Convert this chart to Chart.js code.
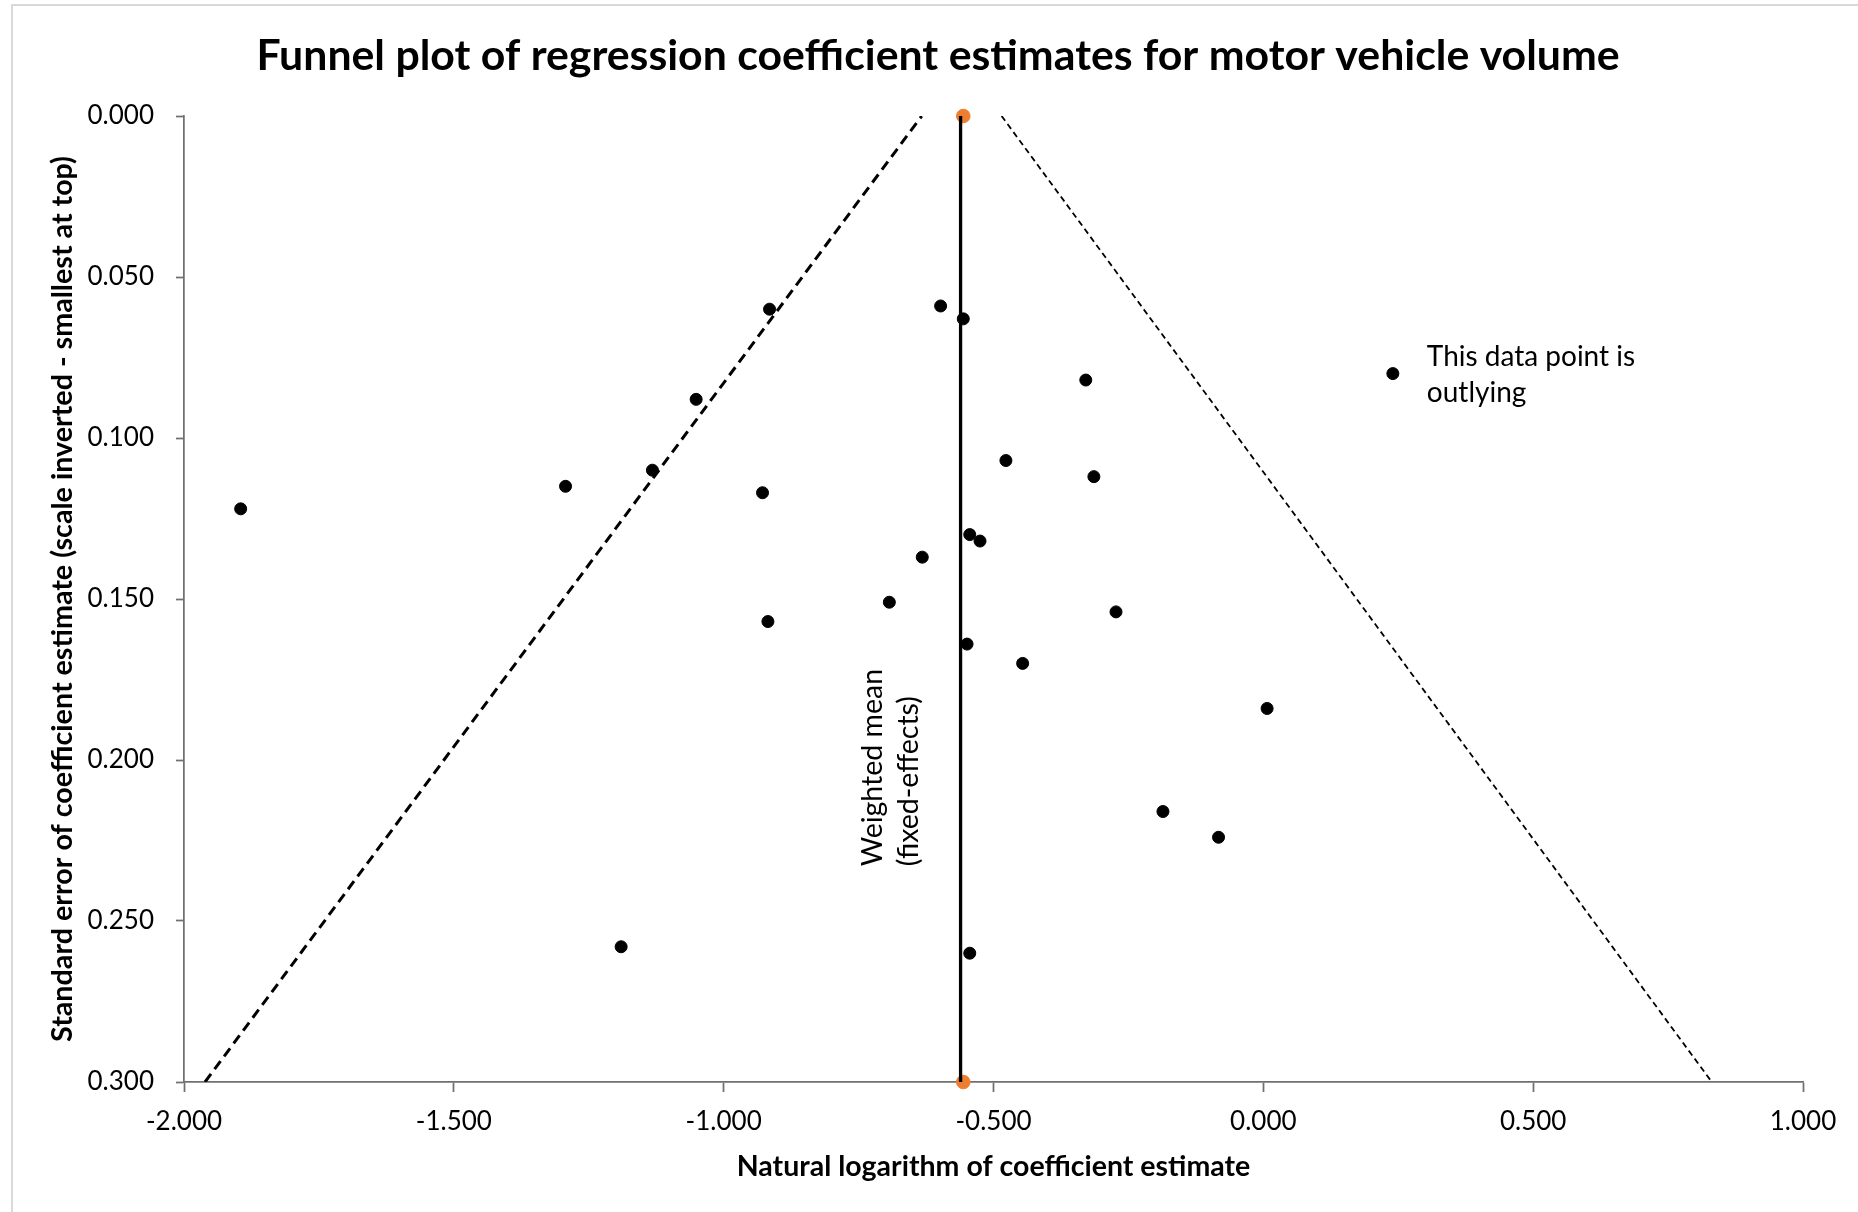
<!DOCTYPE html>
<html>
<head>
<meta charset="utf-8">
<title>Funnel plot</title>
<script src="https://cdn.jsdelivr.net/npm/chart.js@4.4.1/dist/chart.umd.min.js"></script>
<style>
  html, body { margin: 0; padding: 0; background: #fff; overflow: hidden; }
  #frame { position: absolute; left: 11px; top: 4px; width: 1900px; height: 1300px;
           border-left: 2px solid #d9d9d9; border-top: 2px solid #d9d9d9; }
  #wrap { position: absolute; left: 0; top: 0; width: 1858px; height: 1212px; }
</style>
</head>
<body>
<div id="frame"></div>
<div id="wrap"><canvas id="chart" width="1858" height="1212"></canvas></div>
<script>
/* Study estimates: ln(coefficient) and its standard error */
var estimates = [-1.895, -1.293, -1.132, -1.051, -0.915, -0.928, -0.918, -1.190, -0.598, -0.556,
                 -0.329, -0.477, -0.314, -0.544, -0.525, -0.632, -0.693, -0.273, -0.549, -0.446,
                 -0.544, 0.007, -0.186, -0.083, 0.240];
var stdErrors = [0.122, 0.115, 0.110, 0.088, 0.060, 0.117, 0.157, 0.258, 0.059, 0.063,
                 0.082, 0.107, 0.112, 0.130, 0.132, 0.137, 0.151, 0.154, 0.164, 0.170,
                 0.260, 0.184, 0.216, 0.224, 0.080];
var outlierIndex = 24;

/* Weighted mean (fixed-effects) line and its end markers */
var meanEstimate = -0.561;
var meanLineSE = [0, 0.3];
var meanMarkerX = [-0.556, -0.556];
var meanMarkerSE = [0, 0.3];

/* Funnel limits */
var lowerLimitX = [-1.961, -0.633];
var lowerLimitSE = [0.3, 0];
var upperLimitX = [-0.485, 0.831];
var upperLimitSE = [0, 0.3];

var titleText = 'Funnel plot of regression coefficient estimates for motor vehicle volume';
var xTitle = 'Natural logarithm of coefficient estimate';
var yTitle = 'Standard error of coefficient estimate (scale inverted - smallest at top)';
var outlierNote = ['This data point is', 'outlying'];
var meanNote = ['Weighted mean', '(fixed-effects)'];

var FONT = 'Lato, "Open Sans", sans-serif';
var axisGrey = '#707070';

function pts(xs, ys) {
  return xs.map(function (x, i) { return { x: x, y: ys[i] }; });
}
function fmt(v) { return Math.abs(v) < 1e-9 ? '0.000' : Number(v).toFixed(3); }

Chart.defaults.font.family = FONT;
Chart.defaults.color = '#000';

/* Title (centred like the original, not on the canvas) plus the two text notes */
var notes = {
  id: 'notes',
  afterDatasetsDraw: function (chart) {
    var ctx = chart.ctx, xs = chart.scales.x, ys = chart.scales.y;
    ctx.save();
    ctx.fillStyle = '#000';
    ctx.textBaseline = 'middle';

    ctx.font = 'bold 42.8px ' + FONT;
    ctx.textAlign = 'center';
    ctx.fillText(titleText, 938, 56);

    ctx.font = '28px ' + FONT;
    ctx.textAlign = 'left';
    var ox = xs.getPixelForValue(estimates[outlierIndex]);
    var oy = ys.getPixelForValue(stdErrors[outlierIndex]);
    ctx.fillText(outlierNote[0], ox + 34, oy - 17);
    ctx.fillText(outlierNote[1], ox + 34, oy + 19);

    ctx.font = '28.5px ' + FONT;
    ctx.translate(xs.getPixelForValue(meanEstimate) - 88, ys.getPixelForValue(0.233));
    ctx.rotate(-Math.PI / 2);
    ctx.fillText(meanNote[0], 0, 0);
    ctx.fillText(meanNote[1], 0, 36);
    ctx.restore();
  }
};

new Chart(document.getElementById('chart'), {
  type: 'scatter',
  data: {
    datasets: [
      { label: 'Studies', data: pts(estimates, stdErrors), backgroundColor: '#000', borderColor: '#000',
        borderWidth: 1, pointRadius: 6, order: 0, clip: false },
      { label: 'Weighted mean', data: pts([meanEstimate, meanEstimate], meanLineSE), showLine: true,
        borderColor: '#000', borderWidth: 3.3, pointRadius: 0, order: 1 },
      { label: 'Mean markers', data: pts(meanMarkerX, meanMarkerSE), backgroundColor: '#ED7D31',
        borderColor: '#ED7D31', borderWidth: 1, pointRadius: 6.8, order: 2, clip: false },
      { label: 'Lower limit', data: pts(lowerLimitX, lowerLimitSE), showLine: true, borderColor: '#000',
        borderWidth: 3, borderDash: [10, 6], pointRadius: 0, order: 3 },
      { label: 'Upper limit', data: pts(upperLimitX, upperLimitSE), showLine: true, borderColor: '#000',
        borderWidth: 1.8, borderDash: [6, 4], pointRadius: 0, order: 4 }
    ]
  },
  options: {
    responsive: false,
    animation: false,
    events: [],
    layout: { padding: { top: 116, right: 55, bottom: 0, left: 0 } },
    plugins: {
      legend: { display: false },
      tooltip: { enabled: false },
      title: { display: false }
    },
    scales: {
      x: {
        type: 'linear', min: -2, max: 1,
        ticks: { stepSize: 0.5, callback: fmt, font: { size: 26 }, color: '#000', padding: 14, maxRotation: 0 },
        grid: { drawOnChartArea: false, tickLength: 10, tickColor: axisGrey, tickWidth: 1.75 },
        border: { color: axisGrey, width: 1.75 },
        title: { display: true, text: xTitle, color: '#000', font: { size: 28.5, weight: 'bold' },
                 padding: { top: 0, bottom: 28 } },
        afterFit: function (s) { s.height = 130; }
      },
      y: {
        type: 'linear', reverse: true, min: 0, max: 0.3,
        ticks: { stepSize: 0.05, callback: fmt, font: { size: 26 }, color: '#000', padding: 22 },
        grid: { drawOnChartArea: false, tickLength: 8, tickColor: axisGrey, tickWidth: 1.75 },
        border: { color: axisGrey, width: 1.75 },
        title: { display: true, text: yTitle, color: '#000', font: { size: 28.7, weight: 'bold' },
                 padding: { top: 46, bottom: 0 } },
        afterFit: function (s) { s.width = 184; }
      }
    }
  },
  plugins: [notes]
});
</script>
</body>
</html>
